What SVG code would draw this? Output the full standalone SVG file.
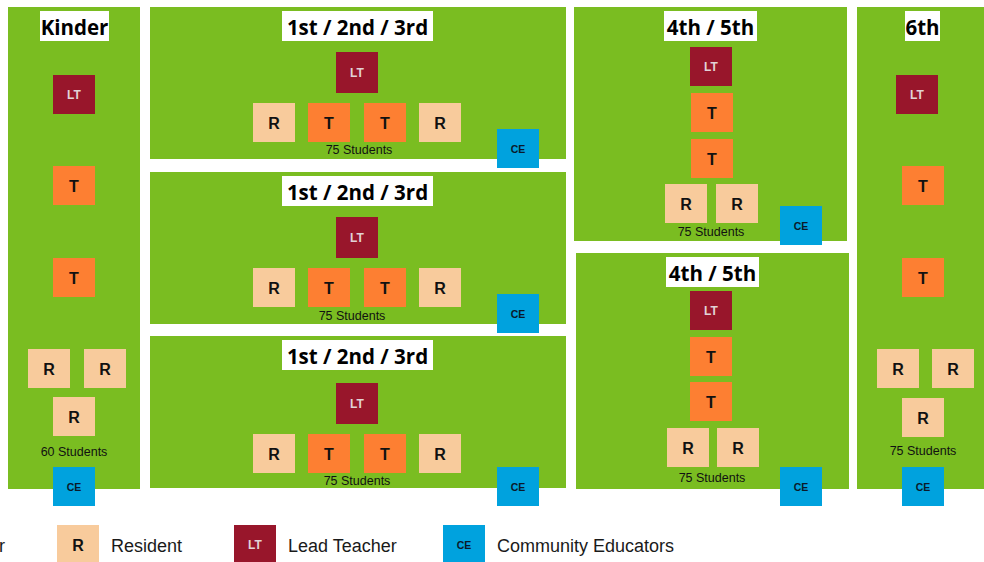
<svg xmlns="http://www.w3.org/2000/svg" width="984" height="562" viewBox="0 0 984 562">
<style>
.panel{fill:#7ABD21}
.tbox{fill:#FFFFFF}
.title{font-family:"Open Sans","Noto Sans",sans-serif;font-weight:bold;font-size:20.5px;fill:#000;text-anchor:middle}
.lt{fill:#98162B}
.t{fill:#FD7F32}
.r{fill:#F8CB9C}
.ce{fill:#00A2DE}
.lbl{font-family:"Liberation Sans",Arial,sans-serif;font-weight:bold;text-anchor:middle}
.big{font-size:16px;fill:#111}
.ltl{font-size:12px;fill:#E2D2D6}
.cel{font-size:10.5px;fill:#0A1A2A}
.stu{font-family:"Liberation Sans",Arial,sans-serif;font-size:12.5px;fill:#111;text-anchor:middle}
.leg{font-family:"Liberation Sans",Arial,sans-serif;font-size:18px;fill:#1a1a1a}
</style>
<rect width="984" height="562" fill="#FFFFFF"/>

<!-- Kinder -->
<g id="kinder">
<rect class="panel" x="8" y="7" width="132" height="482"/>
<rect class="tbox" x="40" y="11" width="69" height="30"/>
<text class="title" x="74.5" y="34.5">Kinder</text>
<rect class="lt" x="53" y="75" width="42" height="39"/><text class="lbl ltl" x="74" y="99">LT</text>
<rect class="t" x="53" y="166" width="42" height="39"/><text class="lbl big" x="74" y="191.5">T</text>
<rect class="t" x="53" y="258" width="42" height="39"/><text class="lbl big" x="74" y="283.5">T</text>
<rect class="r" x="28" y="349" width="42" height="39"/><text class="lbl big" x="49" y="374.5">R</text>
<rect class="r" x="84" y="349" width="42" height="39"/><text class="lbl big" x="105" y="374.5">R</text>
<rect class="r" x="53" y="397" width="42" height="39"/><text class="lbl big" x="74" y="422.5">R</text>
<text class="stu" x="74" y="456">60 Students</text>
<rect class="ce" x="53" y="467" width="42" height="39"/><text class="lbl cel" x="74" y="490.5">CE</text>
</g>

<!-- 1st/2nd/3rd A -->
<g id="grade123a">
<rect class="panel" x="150" y="7" width="416" height="152"/>
<rect class="tbox" x="282" y="11" width="151" height="30"/>
<text class="title" x="357.5" y="34.5">1st / 2nd / 3rd</text>
<rect class="lt" x="336" y="52" width="42" height="41"/><text class="lbl ltl" x="357" y="77">LT</text>
<rect class="r" x="253" y="103" width="42" height="39"/><text class="lbl big" x="274" y="128.5">R</text>
<rect class="t" x="308" y="103" width="42" height="39"/><text class="lbl big" x="329" y="128.5">T</text>
<rect class="t" x="364" y="103" width="42" height="39"/><text class="lbl big" x="385" y="128.5">T</text>
<rect class="r" x="419" y="103" width="42" height="39"/><text class="lbl big" x="440" y="128.5">R</text>
<text class="stu" x="359" y="154">75 Students</text>
<rect class="ce" x="497" y="129" width="42" height="39"/><text class="lbl cel" x="518" y="152.5">CE</text>
</g>

<!-- 1st/2nd/3rd B -->
<g id="grade123b">
<rect class="panel" x="150" y="172" width="416" height="152"/>
<rect class="tbox" x="282" y="176" width="151" height="30"/>
<text class="title" x="357.5" y="199.5">1st / 2nd / 3rd</text>
<rect class="lt" x="336" y="217" width="42" height="41"/><text class="lbl ltl" x="357" y="242">LT</text>
<rect class="r" x="253" y="268" width="42" height="39"/><text class="lbl big" x="274" y="293.5">R</text>
<rect class="t" x="308" y="268" width="42" height="39"/><text class="lbl big" x="329" y="293.5">T</text>
<rect class="t" x="364" y="268" width="42" height="39"/><text class="lbl big" x="385" y="293.5">T</text>
<rect class="r" x="419" y="268" width="42" height="39"/><text class="lbl big" x="440" y="293.5">R</text>
<text class="stu" x="352" y="320">75 Students</text>
<rect class="ce" x="497" y="294" width="42" height="39"/><text class="lbl cel" x="518" y="317.5">CE</text>
</g>

<!-- 1st/2nd/3rd C -->
<g id="grade123c">
<rect class="panel" x="150" y="336" width="416" height="152"/>
<rect class="tbox" x="282" y="340" width="151" height="30"/>
<text class="title" x="357.5" y="363.5">1st / 2nd / 3rd</text>
<rect class="lt" x="336" y="383" width="42" height="41"/><text class="lbl ltl" x="357" y="408">LT</text>
<rect class="r" x="253" y="434" width="42" height="39"/><text class="lbl big" x="274" y="459.5">R</text>
<rect class="t" x="308" y="434" width="42" height="39"/><text class="lbl big" x="329" y="459.5">T</text>
<rect class="t" x="364" y="434" width="42" height="39"/><text class="lbl big" x="385" y="459.5">T</text>
<rect class="r" x="419" y="434" width="42" height="39"/><text class="lbl big" x="440" y="459.5">R</text>
<text class="stu" x="357" y="485">75 Students</text>
<rect class="ce" x="497" y="467" width="42" height="39"/><text class="lbl cel" x="518" y="490.5">CE</text>
</g>

<!-- 4th/5th A -->
<g id="grade45a">
<rect class="panel" x="574" y="7" width="273" height="234"/>
<rect class="tbox" x="664" y="11" width="93" height="30"/>
<text class="title" x="710.5" y="34.5">4th / 5th</text>
<rect class="lt" x="690" y="47" width="42" height="39"/><text class="lbl ltl" x="711" y="71">LT</text>
<rect class="t" x="691" y="93" width="42" height="39"/><text class="lbl big" x="712" y="118.5">T</text>
<rect class="t" x="691" y="139" width="42" height="39"/><text class="lbl big" x="712" y="164.5">T</text>
<rect class="r" x="665" y="184" width="42" height="39"/><text class="lbl big" x="686" y="209.5">R</text>
<rect class="r" x="716" y="184" width="42" height="39"/><text class="lbl big" x="737" y="209.5">R</text>
<text class="stu" x="711" y="236">75 Students</text>
<rect class="ce" x="780" y="206" width="42" height="39"/><text class="lbl cel" x="801" y="229.5">CE</text>
</g>

<!-- 4th/5th B -->
<g id="grade45b">
<rect class="panel" x="576" y="253" width="273" height="236"/>
<rect class="tbox" x="666" y="257" width="93" height="30"/>
<text class="title" x="712.5" y="280.5">4th / 5th</text>
<rect class="lt" x="690" y="291" width="42" height="39"/><text class="lbl ltl" x="711" y="315">LT</text>
<rect class="t" x="690" y="337" width="42" height="39"/><text class="lbl big" x="711" y="362.5">T</text>
<rect class="t" x="690" y="382" width="42" height="39"/><text class="lbl big" x="711" y="407.5">T</text>
<rect class="r" x="667" y="428" width="42" height="39"/><text class="lbl big" x="688" y="453.5">R</text>
<rect class="r" x="717" y="428" width="42" height="39"/><text class="lbl big" x="738" y="453.5">R</text>
<text class="stu" x="712" y="482">75 Students</text>
<rect class="ce" x="780" y="467" width="42" height="39"/><text class="lbl cel" x="801" y="490.5">CE</text>
</g>

<!-- 6th -->
<g id="grade6">
<rect class="panel" x="857" y="7" width="127" height="482"/>
<rect class="tbox" x="905" y="11" width="35" height="30"/>
<text class="title" x="922.5" y="34.5">6th</text>
<rect class="lt" x="896" y="75" width="42" height="39"/><text class="lbl ltl" x="917" y="99">LT</text>
<rect class="t" x="902" y="166" width="42" height="39"/><text class="lbl big" x="923" y="191.5">T</text>
<rect class="t" x="902" y="258" width="42" height="39"/><text class="lbl big" x="923" y="283.5">T</text>
<rect class="r" x="877" y="349" width="42" height="39"/><text class="lbl big" x="898" y="374.5">R</text>
<rect class="r" x="932" y="349" width="42" height="39"/><text class="lbl big" x="953" y="374.5">R</text>
<rect class="r" x="902" y="398" width="42" height="39"/><text class="lbl big" x="923" y="423.5">R</text>
<text class="stu" x="923" y="455">75 Students</text>
<rect class="ce" x="902" y="467" width="42" height="39"/><text class="lbl cel" x="923" y="490.5">CE</text>
</g>

<g id="connectors"></g>

<!-- Legend -->
<g id="legend">
<text class="leg" x="-1" y="552">r</text>
<rect class="r" x="57" y="525" width="42" height="37"/><text class="lbl big" x="78" y="550.5">R</text>
<text class="leg" x="111" y="552">Resident</text>
<rect class="lt" x="234" y="525" width="42" height="37"/><text class="lbl ltl" x="255" y="549">LT</text>
<text class="leg" x="288" y="552">Lead Teacher</text>
<rect class="ce" x="443" y="525" width="42" height="37"/><text class="lbl cel" x="464" y="548.5">CE</text>
<text class="leg" x="497" y="552">Community Educators</text>
</g>
</svg>
